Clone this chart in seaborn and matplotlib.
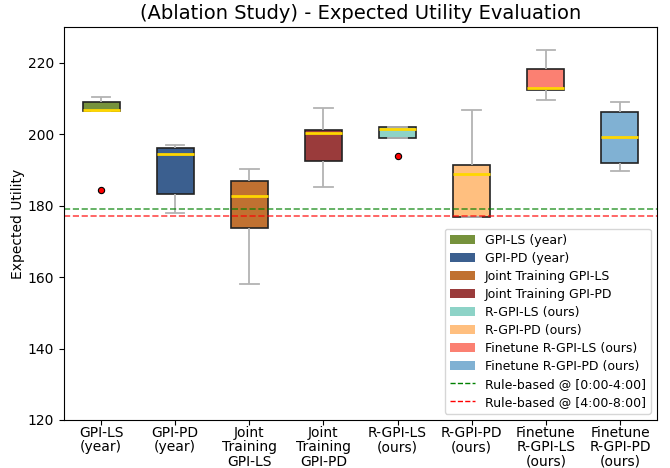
import matplotlib
matplotlib.use('Agg')
import matplotlib.pyplot as plt
from matplotlib.patches import Patch
from matplotlib.lines import Line2D
import pandas as pd
import seaborn as sns

# methods and their tick labels
methods = ['GPI-LS (year)', 'GPI-PD (year)', 'Joint Training GPI-LS', 'Joint Training GPI-PD',
           'R-GPI-LS (ours)', 'R-GPI-PD (ours)', 'Finetune R-GPI-LS (ours)', 'Finetune R-GPI-PD (ours)']
tick_labels = ['GPI-LS\n(year)', 'GPI-PD\n(year)', 'Joint\nTraining\nGPI-LS', 'Joint\nTraining\nGPI-PD',
               'R-GPI-LS\n(ours)', 'R-GPI-PD\n(ours)', 'Finetune\nR-GPI-LS\n(ours)', 'Finetune\nR-GPI-PD\n(ours)']
colors = ['#76923c', '#3b5f8f', '#c07131', '#9a3b3b', '#8dd3c7', '#ffbf7f', '#fb8072', '#80b1d3']

# expected utility per run
gpi_ls_year = [184.5, 206.6, 206.8, 209.1, 210.4]
gpi_pd_year = [177.9, 183.2, 194.6, 196.1, 196.9]
joint_gpi_ls = [158.1, 173.7, 182.7, 186.9, 190.4]
joint_gpi_pd = [185.3, 192.5, 200.4, 201.1, 207.3]
r_gpi_ls = [193.9, 199.1, 201.6, 202.2, 202.2]
r_gpi_pd = [176.9, 176.9, 188.9, 191.4, 206.9]
ft_r_gpi_ls = [209.5, 212.3, 212.9, 218.4, 223.7]
ft_r_gpi_pd = [189.7, 191.9, 199.4, 206.3, 209.2]

rule_based_0_4 = 179.1
rule_based_4_8 = 177.2

series = [gpi_ls_year, gpi_pd_year, joint_gpi_ls, joint_gpi_pd,
          r_gpi_ls, r_gpi_pd, ft_r_gpi_ls, ft_r_gpi_pd]
rows = []
for m, vals in zip(methods, series):
    for v in vals:
        rows.append({'method': m, 'utility': v})
df = pd.DataFrame(rows)

fig, ax = plt.subplots(figsize=(6.7, 4.68), dpi=100)

sns.boxplot(data=df, x='method', y='utility', hue='method', order=methods, hue_order=methods,
            palette=colors, width=0.5, saturation=1, legend=False, ax=ax,
            linecolor='#222222', linewidth=1.2,
            medianprops={'color': '#ffd700', 'linewidth': 2},
            whiskerprops={'color': '#b3b3b3', 'linewidth': 1.3},
            capprops={'color': '#b3b3b3', 'linewidth': 1.3},
            flierprops={'marker': 'o', 'markerfacecolor': 'red', 'markeredgecolor': 'black',
                        'markersize': 4.5, 'markeredgewidth': 0.8})

ax.axhline(rule_based_0_4, color='green', linestyle='--', alpha=0.7, linewidth=1.2)
ax.axhline(rule_based_4_8, color='red', linestyle='--', alpha=0.7, linewidth=1.2)

ax.set_ylim(120, 230)
ax.set_yticks([120, 140, 160, 180, 200, 220])
ax.set_xticks(range(len(methods)))
ax.set_xticklabels(tick_labels, fontsize=10, linespacing=1.02)
ax.tick_params(axis='y', labelsize=10)
ax.tick_params(axis='x', pad=1)
ax.set_xlabel('')
ax.set_ylabel('Expected Utility', fontsize=10, labelpad=2)
ax.set_title('(Ablation Study) - Expected Utility Evaluation', fontsize=14)

handles = [Patch(facecolor=c, label=m) for c, m in zip(colors, methods)]
handles.append(Line2D([0], [0], color='green', linestyle='--', lw=1, label='Rule-based @ [0:00-4:00]'))
handles.append(Line2D([0], [0], color='red', linestyle='--', lw=1, label='Rule-based @ [4:00-8:00]'))
ax.legend(handles=handles, loc='lower right', fontsize=9, labelspacing=0.4)

plt.subplots_adjust(left=0.0955, right=0.9806, top=0.9417, bottom=0.1026)
plt.savefig('out.png')
